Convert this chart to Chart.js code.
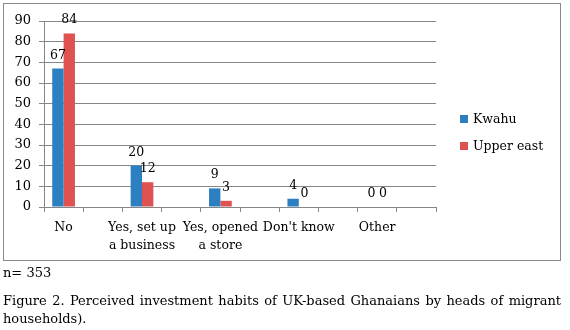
<!DOCTYPE html>
<html>
<head>
<meta charset="utf-8">
<script src="https://cdn.jsdelivr.net/npm/chart.js@4.4.1/dist/chart.umd.min.js"></script>
<style>
    body { margin: 0; background: #fff; width: 570px; height: 330px; position: relative; overflow: hidden; }
    #chartBox { position: absolute; left: 3px; top: 3px; width: 556px; height: 256px; border: 1px solid #8a8a8a; pointer-events: none; }
    #myChart { position: absolute; left: 0; top: 0; }
    .legend { position: absolute; left: 460px; font: 12.5px "DejaVu Serif", serif; color: #000; }
    .legend span { display: inline-block; width: 8px; height: 8px; margin-right: 5px; vertical-align: 0px; }
    .note { position: absolute; left: 3px; width: 558px; font: 13px "DejaVu Serif", serif; color: #000; }
    #cap1 { top: 293px; text-align: justify; text-align-last: justify; }
</style>
</head>
<body>
<canvas id="myChart" width="570" height="262"></canvas>
<div id="chartBox"></div>
<div class="legend" style="top: 111px;"><span style="background:#2c7fc1"></span>Kwahu</div>
<div class="legend" style="top: 138px;"><span style="background:#e05252"></span>Upper east</div>
<div class="note" style="top: 265px;">n= 353</div>
<div class="note" id="cap1">Figure 2. Perceived investment habits of UK-based Ghanaians by heads of migrant</div>
<div class="note" style="top: 311px;">households).</div>

<script>
// Danh mục: Excel để các cột trống xen giữa
var categories = [['No'], '', ['Yes, set up', 'a business'], '', ['Yes, opened', 'a store'], '', ["Don't know"], '', ['Other'], ''];
var kwahu = [67, null, 20, null, 9, null, 4, null, 0, null];
var upperEast = [84, null, 12, null, 3, null, 0, null, 0, null];
var yTicks = [0, 10, 20, 30, 40, 50, 60, 70, 80, 90];

var axisColor = '#868686';

// Vẽ nhãn giá trị phía trên mỗi cột
var valueLabels = {
    id: 'valueLabels',
    afterDatasetsDraw: function (chart) {
        var ctx = chart.ctx;
        ctx.save();
        ctx.font = '12.5px "DejaVu Serif", serif';
        ctx.fillStyle = '#000';
        ctx.textAlign = 'center';
        ctx.textBaseline = 'alphabetic';
        chart.data.datasets.forEach(function (ds, i) {
            chart.getDatasetMeta(i).data.forEach(function (bar, j) {
                if (ds.data[j] === null) return;
                ctx.fillText(String(ds.data[j]), bar.x, bar.y - 10);
            });
        });
        ctx.restore();
    }
};

var ctx = document.getElementById('myChart').getContext('2d');
new Chart(ctx, {
    type: 'bar',
    data: {
        labels: categories,
        datasets: [{
            label: 'Kwahu',
            data: kwahu,
            backgroundColor: '#2c7fc1',
            categoryPercentage: 0.58,
            barPercentage: 1.0
        }, {
            label: 'Upper east',
            data: upperEast,
            backgroundColor: '#e05252',
            categoryPercentage: 0.58,
            barPercentage: 1.0
        }]
    },
    options: {
        responsive: false,
        animation: false,
        layout: { padding: { left: 0, right: 134, top: 21, bottom: 0 } },
        plugins: {
            legend: { display: false },
            tooltip: { enabled: false }
        },
        scales: {
            x: {
                afterFit: function (s) { s.height = 55; },
                grid: { drawOnChartArea: false, drawTicks: true, tickLength: 5, color: axisColor, offset: true },
                border: { color: axisColor },
                ticks: { font: { family: '"DejaVu Serif", serif', size: 12.5, lineHeight: 1.45 }, color: '#000', padding: 7, maxRotation: 0, autoSkip: false }
            },
            y: {
                min: 0,
                max: 90,
                afterFit: function (s) { s.width = 44; },
                afterBuildTicks: function (s) { s.ticks = yTicks.map(function (v) { return { value: v }; }); },
                grid: { color: axisColor, tickLength: 5 },
                border: { color: axisColor },
                ticks: { font: { family: '"DejaVu Serif", serif', size: 13 }, color: '#000', padding: 8 }
            }
        }
    },
    plugins: [valueLabels]
});
</script>
</body>
</html>
